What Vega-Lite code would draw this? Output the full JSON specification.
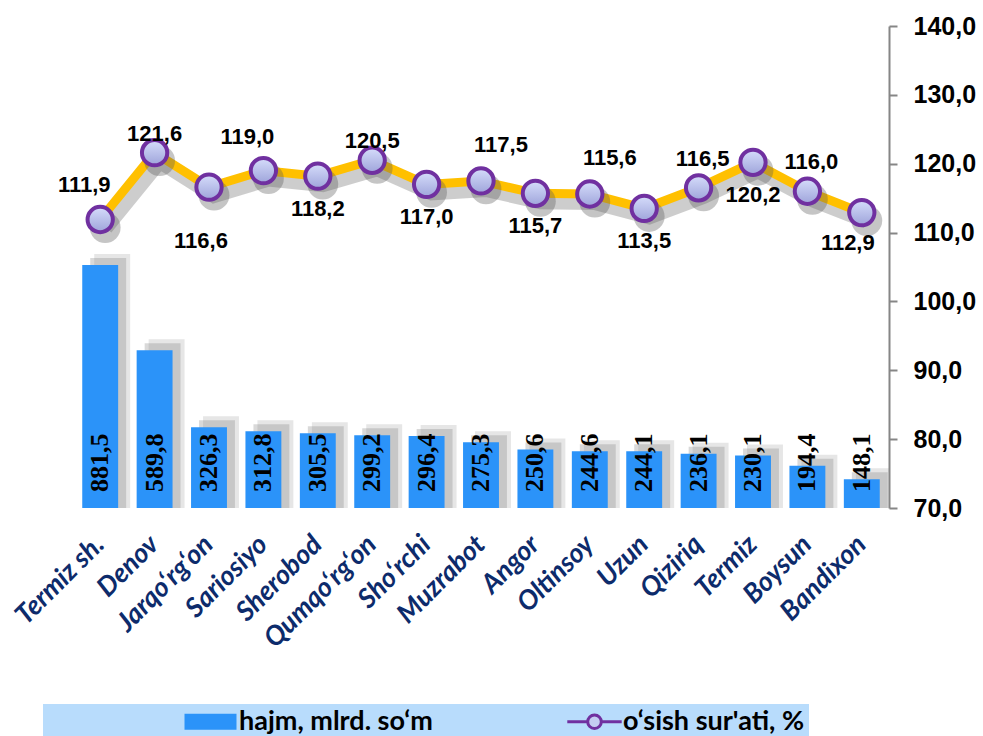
{
  "$schema": "https://vega.github.io/schema/vega-lite/v6.json",
  "width": 816,
  "height": 482,
  "autosize": {"type": "none"},
  "padding": {"left": 73, "top": 26, "right": 94, "bottom": 228},
  "background": "#ffffff",
  "config": {
    "view": {"stroke": null},
    "locale": {"number": {"decimal": ",", "thousands": "\u00a0", "grouping": [3], "currency": ["", ""]}}
  },
  "data": {
    "values": [
      {"name": "Termiz sh.", "hajm": 881.5, "osish": 111.9},
      {"name": "Denov", "hajm": 589.8, "osish": 121.6},
      {"name": "Jarqo‘rg‘on", "hajm": 326.3, "osish": 116.6},
      {"name": "Sariosiyo", "hajm": 312.8, "osish": 119.0},
      {"name": "Sherobod", "hajm": 305.5, "osish": 118.2},
      {"name": "Qumqo‘rg‘on", "hajm": 299.2, "osish": 120.5},
      {"name": "Sho‘rchi", "hajm": 296.4, "osish": 117.0},
      {"name": "Muzrabot", "hajm": 275.3, "osish": 117.5},
      {"name": "Angor", "hajm": 250.6, "osish": 115.7},
      {"name": "Oltinsoy", "hajm": 244.6, "osish": 115.6},
      {"name": "Uzun", "hajm": 244.1, "osish": 113.5},
      {"name": "Qiziriq", "hajm": 236.1, "osish": 116.5},
      {"name": "Termiz", "hajm": 230.1, "osish": 120.2},
      {"name": "Boysun", "hajm": 194.4, "osish": 116.0},
      {"name": "Bandixon", "hajm": 148.1, "osish": 112.9}
    ]
  },
  "encoding": {
    "x": {
      "field": "name",
      "type": "nominal",
      "sort": null,
      "scale": {"paddingInner": 0.34, "paddingOuter": 0.17},
      "axis": {
        "title": null,
        "labelAngle": -45,
        "labelAlign": "right",
        "labelBaseline": "middle",
        "labelFont": "Lato",
        "labelFontStyle": "italic",
        "labelFontWeight": "bold",
        "labelFontSize": 27,
        "labelColor": "#0D2B6B",
        "labelPadding": 32,
        "labelLimit": 300,
        "domain": false,
        "ticks": false
      }
    }
  },
  "layer": [
    {
      "encoding": {
        "y": {"field": "hajm", "type": "quantitative", "scale": {"domain": [50, 1700], "nice": false, "zero": false}, "axis": null}
      },
      "layer": [
        {"mark": {"type": "bar", "color": "#808080", "opacity": 0.3, "xOffset": 8, "yOffset": -7, "clip": true}},
        {"mark": {"type": "bar", "color": "#808080", "opacity": 0.2, "xOffset": 12, "yOffset": -11, "clip": true}},
        {
          "mark": {"type": "bar", "clip": true},
          "encoding": {
            "color": {
              "datum": "hajm, mlrd. so‘m",
              "type": "nominal",
              "scale": {"domain": ["hajm, mlrd. so‘m", "o‘sish sur'ati, %"], "range": ["#2B93F9", "#C5CCF2"]},
              "legend": {
                "orient": "none",
                "legendX": -30,
                "legendY": 678,
                "direction": "horizontal",
                "fillColor": "#B8DCFC",
                "padding": 4,
                "title": "MMMMMM",
                "titleColor": "#B8DCFC",
                "titleOrient": "left",
                "titleFont": "Lato",
                "titleFontSize": 22,
                "titleFontWeight": "bold",
                "titlePadding": 8,
                "titleLimit": 400,
                "labelFont": "Lato",
                "labelFontSize": 27,
                "labelFontWeight": "bold",
                "labelColor": "#000000",
                "labelLimit": 600,
                "labelOffset": 15,
                "symbolOffset": 17,
                "symbolSize": 256,
                "symbolStrokeColor": "#7030A0",
                "columnPadding": 128,
                "labelExpr": "indexof(datum.label, 'sish') >= 0 ? datum.label + '\u00a0\u00a0\u00a0\u00a0\u00a0\u00a0\u00a0\u00a0\u00a0\u00a0\u00a0\u00a0\u00a0\u00a0\u00a0\u00a0\u00a0\u00a0\u00a0\u00a0\u00a0\u00a0\u00a0\u00a0\u00a0' : datum.label",
                "encode": {
                  "symbols": {
                    "update": {
                      "shape": {"signal": "datum.index == 0 ? 'M-3.25,-1H3.25V1H-3.25Z' : 'M-3.4,0H-0.9M0.9,0H3.4M0.85,0A0.85,0.85,0,1,1,-0.85,0A0.85,0.85,0,1,1,0.85,0Z'"},
                      "stroke": {"value": "#7030A0"},
                      "strokeWidth": {"signal": "datum.index == 0 ? 0 : 3"},
                      "size": {"value": 256},
                      "opacity": {"value": 1}
                    }
                  }
                }
              }
            }
          }
        },
        {
          "mark": {"type": "text", "angle": -90, "align": "left", "baseline": "middle", "font": "Liberation Serif", "fontWeight": "bold", "fontSize": 26, "yOffset": -16, "color": "#000000"},
          "encoding": {
            "y": {"datum": 50, "type": "quantitative"},
            "text": {"field": "hajm", "type": "quantitative", "format": ".1f"}
          }
        }
      ]
    },
    {
      "encoding": {
        "y": {
          "field": "osish",
          "type": "quantitative",
          "scale": {"domain": [70, 140], "nice": false, "zero": false},
          "axis": {
            "orient": "right",
            "title": null,
            "values": [70, 80, 90, 100, 110, 120, 130, 140],
            "format": ".1f",
            "grid": false,
            "domainColor": "#868686",
            "domainWidth": 2,
            "tickColor": "#868686",
            "tickWidth": 2,
            "tickSize": 8,
            "labelFont": "Liberation Sans",
            "labelFontWeight": "bold",
            "labelFontSize": 25,
            "labelColor": "#000000",
            "labelPadding": 16
          }
        }
      },
      "layer": [
        {"mark": {"type": "line", "color": "#5a5a5a", "opacity": 0.3, "strokeWidth": 16, "xOffset": 5, "yOffset": 8}},
        {"mark": {"type": "line", "strokeWidth": 9, "color": "#FFC000"}},
        {"mark": {"type": "point", "filled": true, "color": "#5a5a5a", "opacity": 0.35, "size": 950, "xOffset": 5, "yOffset": 8}},
        {
          "mark": {
            "type": "point",
            "filled": true,
            "opacity": 1,
            "size": 640,
            "fill": {"gradient": "linear", "x1": 0, "y1": 0, "x2": 0, "y2": 1, "stops": [{"offset": 0, "color": "#D6DDFB"}, {"offset": 1, "color": "#9EA4DA"}]},
            "stroke": "#7030A0",
            "strokeWidth": 4
          }
        },
        {
          "transform": [{"filter": {"field": "name", "oneOf": ["Termiz sh.", "Sariosiyo"]}}],
          "mark": {"type": "text", "font": "Liberation Sans", "fontWeight": "bold", "fontSize": 22, "color": "#000000", "dx": -16, "dy": -34},
          "encoding": {"text": {"field": "osish", "type": "quantitative", "format": ".1f"}}
        },
        {
          "transform": [{"filter": {"field": "name", "oneOf": ["Denov", "Qumqo‘rg‘on"]}}],
          "mark": {"type": "text", "font": "Liberation Sans", "fontWeight": "bold", "fontSize": 22, "color": "#000000", "dx": 0, "dy": -19},
          "encoding": {"text": {"field": "osish", "type": "quantitative", "format": ".1f"}}
        },
        {
          "transform": [{"filter": {"field": "name", "oneOf": ["Qiziriq", "Boysun"]}}],
          "mark": {"type": "text", "font": "Liberation Sans", "fontWeight": "bold", "fontSize": 22, "color": "#000000", "dx": 4, "dy": -29},
          "encoding": {"text": {"field": "osish", "type": "quantitative", "format": ".1f"}}
        },
        {
          "transform": [{"filter": {"field": "name", "oneOf": ["Muzrabot", "Oltinsoy"]}}],
          "mark": {"type": "text", "font": "Liberation Sans", "fontWeight": "bold", "fontSize": 22, "color": "#000000", "dx": 20, "dy": -36},
          "encoding": {"text": {"field": "osish", "type": "quantitative", "format": ".1f"}}
        },
        {
          "transform": [{"filter": {"field": "name", "oneOf": ["Jarqo‘rg‘on"]}}],
          "mark": {"type": "text", "font": "Liberation Sans", "fontWeight": "bold", "fontSize": 22, "color": "#000000", "dx": -8, "dy": 54},
          "encoding": {"text": {"field": "osish", "type": "quantitative", "format": ".1f"}}
        },
        {
          "transform": [{"filter": {"field": "name", "oneOf": ["Sherobod", "Sho‘rchi", "Angor", "Uzun", "Termiz"]}}],
          "mark": {"type": "text", "font": "Liberation Sans", "fontWeight": "bold", "fontSize": 22, "color": "#000000", "dx": 0, "dy": 33},
          "encoding": {"text": {"field": "osish", "type": "quantitative", "format": ".1f"}}
        },
        {
          "transform": [{"filter": {"field": "name", "oneOf": ["Bandixon"]}}],
          "mark": {"type": "text", "font": "Liberation Sans", "fontWeight": "bold", "fontSize": 22, "color": "#000000", "dx": -14, "dy": 30},
          "encoding": {"text": {"field": "osish", "type": "quantitative", "format": ".1f"}}
        }
      ]
    }
  ],
  "resolve": {"scale": {"y": "independent"}}
}
